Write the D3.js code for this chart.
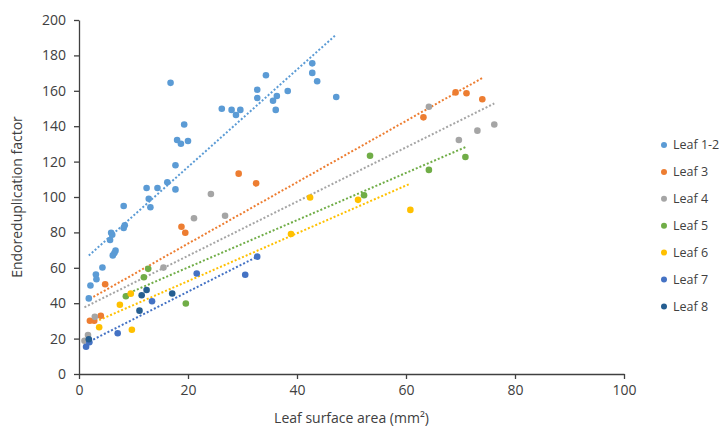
<!DOCTYPE html>
<html>
<head>
<meta charset="utf-8">
<script src="https://cdn.jsdelivr.net/npm/d3@7"></script>
<style>
  html, body { margin: 0; padding: 0; background: #fff; }
  svg { display: block; }
  text { font-family: "Open Sans", "Noto Sans", sans-serif; fill: #404040; }
</style>
</head>
<body>
<svg id="chart" width="721" height="435"></svg>
<script>
// ---- Data ----
const seriesNames = ["Leaf 1-2", "Leaf 3", "Leaf 4", "Leaf 5", "Leaf 6", "Leaf 7", "Leaf 8"];
const seriesColors = ["#5B9BD5", "#ED7D31", "#A5A5A5", "#70AD47", "#FFC000", "#4472C4", "#255E91"];
const hasTrend = [true, true, true, true, true, true, false];

const leaf12 = [[1.8,42.7],[2.1,50.0],[3.1,56.2],[3.2,53.5],[4.3,60.2],[5.7,75.7],[5.9,79.8],[6.1,78.7],
  [6.2,67.0],[6.5,68.3],[6.7,69.7],[8.2,82.5],[8.4,84.0],[8.2,94.9],[12.4,105.1],[12.8,99.0],[13.1,94.2],
  [14.4,105.1],[16.2,108.3],[16.8,164.5],[17.7,104.3],[17.7,117.9],[18.0,132.2],[18.7,130.1],[19.3,141.0],
  [20.0,131.6],[26.2,149.9],[28.0,149.2],[28.8,146.3],[29.6,149.2],[32.7,160.6],[32.7,155.9],[34.3,168.8],
  [35.6,154.4],[36.1,149.2],[36.3,157.1],[38.3,159.9],[42.8,175.5],[42.8,170.1],[43.7,165.4],[47.2,156.5]];
const leaf3 = [[2.0,30.1],[2.8,30.1],[4.0,32.9],[4.8,50.7],[18.8,83.2],[19.5,79.8],[29.3,113.2],[32.5,107.7],
  [63.2,145.0],[69.1,159.1],[71.1,158.6],[74.0,155.2]];
const leaf4 = [[1.0,18.8],[1.65,22.0],[2.9,32.3],[15.5,60.1],[21.1,88.0],[24.2,101.7],[26.8,89.4],
  [64.2,151.0],[69.7,132.2],[73.1,137.5],[76.2,141.0]];
const leaf5 = [[8.6,43.9],[11.9,54.7],[12.7,59.4],[19.6,39.8],[52.3,101.0],[53.4,123.3],[64.2,115.3],[70.9,122.6]];
const leaf6 = [[3.7,26.4],[7.5,39.1],[9.5,45.4],[9.7,25.0],[38.9,79.1],[42.4,99.7],[51.2,98.4],[60.8,92.7]];
const leaf7 = [[1.3,15.4],[1.9,17.9],[7.1,23.0],[13.4,41.1],[21.6,56.8],[30.5,56.1],[32.7,66.3]];
const leaf8 = [[1.8,19.6],[11.1,35.8],[11.5,44.5],[12.4,47.5],[17.1,45.5]];
const seriesData = [leaf12, leaf3, leaf4, leaf5, leaf6, leaf7, leaf8];

const xTicks = [0, 20, 40, 60, 80, 100];
const yTicks = [0, 20, 40, 60, 80, 100, 120, 140, 160, 180, 200];
const xTitle = "Leaf surface area (mm²)";
const yTitle = "Endoreduplication factor";

// ---- Layout ----
const svg = d3.select("#chart");
const plot = { left: 79, right: 624, top: 20, bottom: 374 };
const x = d3.scaleLinear().domain([0, 100]).range([plot.left, plot.right]);
const y = d3.scaleLinear().domain([0, 200]).range([plot.bottom, plot.top]);
const axisColor = "#404040";

// Axes
const xAxis = svg.append("g").attr("transform", `translate(0,${plot.bottom})`)
  .call(d3.axisBottom(x).tickValues(xTicks).tickSize(5).tickPadding(6).tickSizeOuter(0));
const yAxis = svg.append("g").attr("transform", `translate(${plot.left},0)`)
  .call(d3.axisLeft(y).tickValues(yTicks).tickSize(5).tickPadding(8).tickSizeOuter(0));
[xAxis, yAxis].forEach(g => {
  g.select(".domain").attr("stroke", axisColor).attr("stroke-width", 1.3);
  g.selectAll(".tick line").attr("stroke", axisColor).attr("stroke-width", 1.3);
  g.selectAll(".tick text").style("font-family", "'Open Sans', sans-serif")
    .style("font-size", "14px").attr("fill", "#404040");
});

// Axis titles
svg.append("text").attr("x", (plot.left + plot.right) / 2).attr("y", 423)
  .attr("text-anchor", "middle").style("font-size", "14px").text(xTitle);
svg.append("text").attr("transform", `translate(22,${(plot.top + plot.bottom) / 2}) rotate(-90)`)
  .attr("text-anchor", "middle").style("font-size", "14px").text(yTitle);

// Trend lines (least squares fit of each series, drawn over its x range)
function fit(pts) {
  const n = pts.length;
  const mx = d3.mean(pts, d => d[0]), my = d3.mean(pts, d => d[1]);
  let sxy = 0, sxx = 0;
  pts.forEach(d => { sxy += (d[0] - mx) * (d[1] - my); sxx += (d[0] - mx) ** 2; });
  const b = sxy / sxx, a = my - b * mx;
  const [x0, x1] = d3.extent(pts, d => d[0]);
  return [[x0, a + b * x0], [x1, a + b * x1]];
}
const line = d3.line().x(d => x(d[0])).y(d => y(d[1]));
seriesData.forEach((pts, i) => {
  if (!hasTrend[i]) return;
  svg.append("path").datum(fit(pts)).attr("d", line)
    .attr("fill", "none").attr("stroke", seriesColors[i]).attr("stroke-width", 2)
    .attr("stroke-dasharray", "2,2");
});

// Points
seriesData.forEach((pts, i) => {
  svg.append("g").selectAll("circle").data(pts).join("circle")
    .attr("cx", d => x(d[0])).attr("cy", d => y(d[1])).attr("r", 3.3)
    .attr("fill", seriesColors[i]);
});

// Legend
const legend = svg.append("g");
seriesNames.forEach((name, i) => {
  const ly = 145 + i * 26.9;
  legend.append("circle").attr("cx", 664).attr("cy", ly).attr("r", 3).attr("fill", seriesColors[i]);
  legend.append("text").attr("x", 673).attr("y", ly).attr("dy", "0.35em")
    .style("font-size", "12.5px").attr("fill", "#262626").text(name);
});
</script>
</body>
</html>
